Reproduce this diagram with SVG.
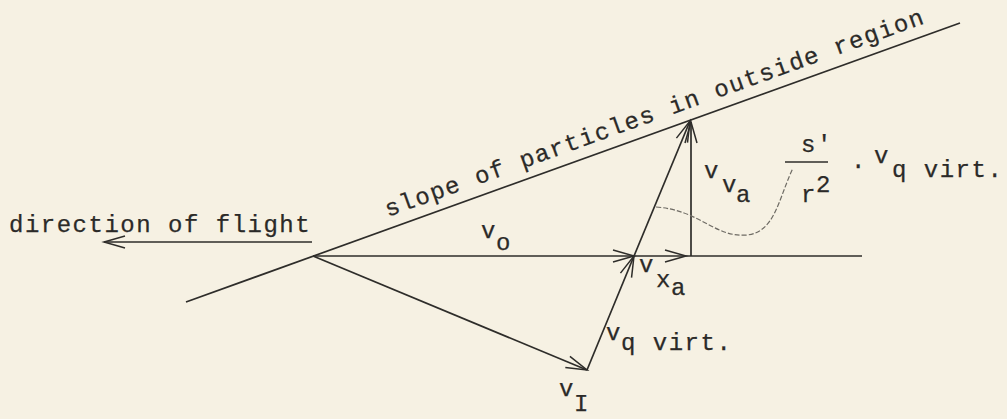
<svg xmlns="http://www.w3.org/2000/svg" width="1007" height="419" viewBox="0 0 1007 419">
<defs>
<style>
.t{font-family:"Liberation Mono","DejaVu Sans Mono",monospace;font-size:24px;letter-spacing:1.5px;fill:#2b2a28;stroke:#2b2a28;stroke-width:0.25}
.ln{stroke:#2e2d2a;stroke-width:1.7;fill:none}
</style>
<marker id="ah" markerUnits="userSpaceOnUse" markerWidth="24" markerHeight="14" refX="21" refY="6" orient="auto" overflow="visible">
<path d="M0,0 L21,6 L0,12" fill="none" stroke="#2e2d2a" stroke-width="1.5"/>
</marker>
</defs>
<rect width="1007" height="419" fill="#f6f1e3"/>
<g id="connectors">
<line id="slope-line" class="ln" x1="186" y1="302" x2="960" y2="23"/>
<line id="flight-arrow" class="ln" x1="312" y1="242" x2="104" y2="242" marker-end="url(#ah)"/>
<line id="vo" class="ln" x1="313" y1="256" x2="634" y2="256" marker-end="url(#ah)"/>
<line id="vxa" class="ln" x1="634" y1="256" x2="686" y2="256" marker-end="url(#ah)"/>
<line id="baseline-ext" class="ln" x1="686" y1="256" x2="862" y2="256"/>
<line id="vI" class="ln" x1="313" y1="256" x2="587" y2="370" marker-end="url(#ah)"/>
<line id="vq1" class="ln" x1="587" y1="370" x2="634" y2="256" marker-end="url(#ah)"/>
<line id="vq2" class="ln" x1="634" y1="256" x2="690" y2="121" marker-end="url(#ah)"/>
<line id="vva" class="ln" x1="691" y1="256" x2="691" y2="122" marker-end="url(#ah)"/>
<path id="link-curve" d="M656,207 C700,210 715,238 747,235 C775,232 778,200 793,168" fill="none" stroke="#6e6b64" stroke-width="1.2" stroke-dasharray="5 2"/>
</g>
<g id="label-direction"><text class="t" x="9" y="232">direction of flight</text></g>
<g id="label-slope"><text class="t" x="388" y="217" transform="rotate(-19.83 388 217)">slope of particles in outside region</text></g>
<g id="label-vo"><text class="t" x="481" y="238">v</text><text class="t" x="496" y="250">o</text></g>
<g id="label-vxa"><text class="t" x="639" y="272">v</text><text class="t" x="656" y="287">x</text><text class="t" x="671" y="295">a</text></g>
<g id="label-vq"><text class="t" x="606" y="340">v</text><text class="t" x="621" y="350">q virt.</text></g>
<g id="label-vI"><text class="t" x="559" y="396">v</text><text class="t" x="574" y="411">I</text></g>
<g id="label-vva"><text class="t" x="704" y="178">v</text><text class="t" x="722" y="192">v</text><text class="t" x="736" y="202">a</text></g>
<g id="label-formula">
<text class="t" x="801" y="152">s'</text>
<line class="ln" x1="785" y1="162" x2="828" y2="162"/>
<text class="t" x="801" y="202">r</text><text class="t" x="816" y="192">2</text>
<text class="t" x="851" y="168">.</text>
<text class="t" x="874" y="163">v</text><text class="t" x="892" y="177">q virt.</text>
</g>
</svg>
